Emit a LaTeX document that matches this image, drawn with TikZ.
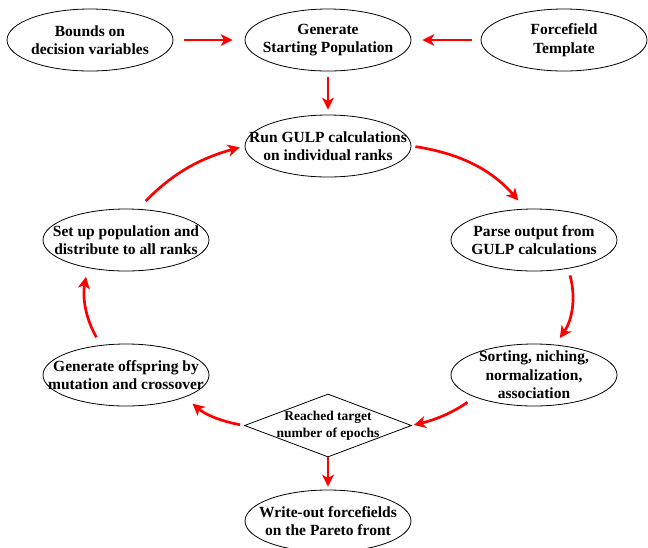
\documentclass[tikz,border=0pt]{standalone}
\usepackage{fontspec}
\setmainfont{Liberation Serif}
\usepackage{tikz}
\usetikzlibrary{shapes.geometric,arrows.meta}
\definecolor{LineRed}{HTML}{FF0000}
\newcommand\nodebounds{Bounds on\\decision variables}
\newcommand\nodegen{Generate\\Starting Population}
\newcommand\nodeff{Forcefield\\Template}
\newcommand\noderun{Run GULP calculations\\on individual ranks}
\newcommand\nodeparse{Parse output from\\GULP calculations}
\newcommand\nodesort{Sorting, niching,\\normalization,\\association}
\newcommand\nodereach{Reached target\\number of epochs}
\newcommand\nodeoff{Generate offspring by\\mutation and crossover}
\newcommand\nodesetup{Set up population and\\distribute to all ranks}
\newcommand\nodewrite{Write-out forcefields\\on the Pareto front}
\tikzstyle{mynodestyle} = [draw=black, line width=0.8pt, align=center, font=\fontsize{15.5}{18.5}\selectfont\bfseries]
\tikzstyle{en} = [mynodestyle, ellipse, minimum width=166pt, minimum height=62pt, inner xsep=-22pt, inner ysep=-6pt]
\tikzstyle{dn} = [mynodestyle, diamond, minimum width=167pt, minimum height=63pt, inner xsep=-40pt, inner ysep=-15pt, font=\fontsize{13.5}{17}\selectfont\bfseries]
\tikzstyle{arr} = [->, draw=LineRed, line width=2.7pt]
\tikzset{>={Stealth[length=12pt,width=12pt,inset=3.5pt]}}

\begin{document}
\begin{tikzpicture}[x=1pt, y=-1pt]
\useasboundingbox (0, 0) rectangle (648, 547);
\node[en] (bounds) at (90, 40) {\nodebounds};
\node[en] (gen) at (328, 40) {\nodegen};
\node[en] (ff) at (564, 40) {\nodeff};
\node[en] (run) at (328, 146) {\noderun};
\node[en] (setup) at (126, 240) {\nodesetup};
\node[en] (parse) at (534, 240) {\nodeparse};
\node[en] (off) at (126, 375) {\nodeoff};
\node[en] (sort) at (534, 375) {\nodesort};
\node[dn] (reach) at (328, 425.5) {\nodereach};
\node[en] (write) at (328, 521) {\nodewrite};
\draw [arr, shorten <=11pt, shorten >=12pt] (bounds.east) -- (gen.west);
\draw [arr, shorten <=9pt, shorten >=11pt] (ff.west) -- (gen.east);
\draw [arr, shorten <=6pt, shorten >=5pt] (gen.south) -- (run.north);
\draw [arr, shorten <=4pt, shorten >=11pt] (run.east) to[bend left=20] (parse.105);
\draw [arr, shorten <=7pt, shorten >=8pt] (parse.-40) to[bend left=25] (sort.55);
\draw [arr, shorten <=9pt, shorten >=2pt] (sort.south west) to[bend left=10] (reach.east);
\draw [arr, shorten <=4pt, shorten >=10pt] (reach.west) to[bend left=15] (off.south east);
\draw [arr, shorten <=9pt, shorten >=9pt] (off.130) to[bend left=20] (setup.-144);
\draw [arr, shorten <=11pt, shorten >=5pt] (setup.69) to[bend left=15] (run.west);
\draw [arr, shorten >=3pt] (reach.south) -- (write.north);
\end{tikzpicture}
\end{document}
